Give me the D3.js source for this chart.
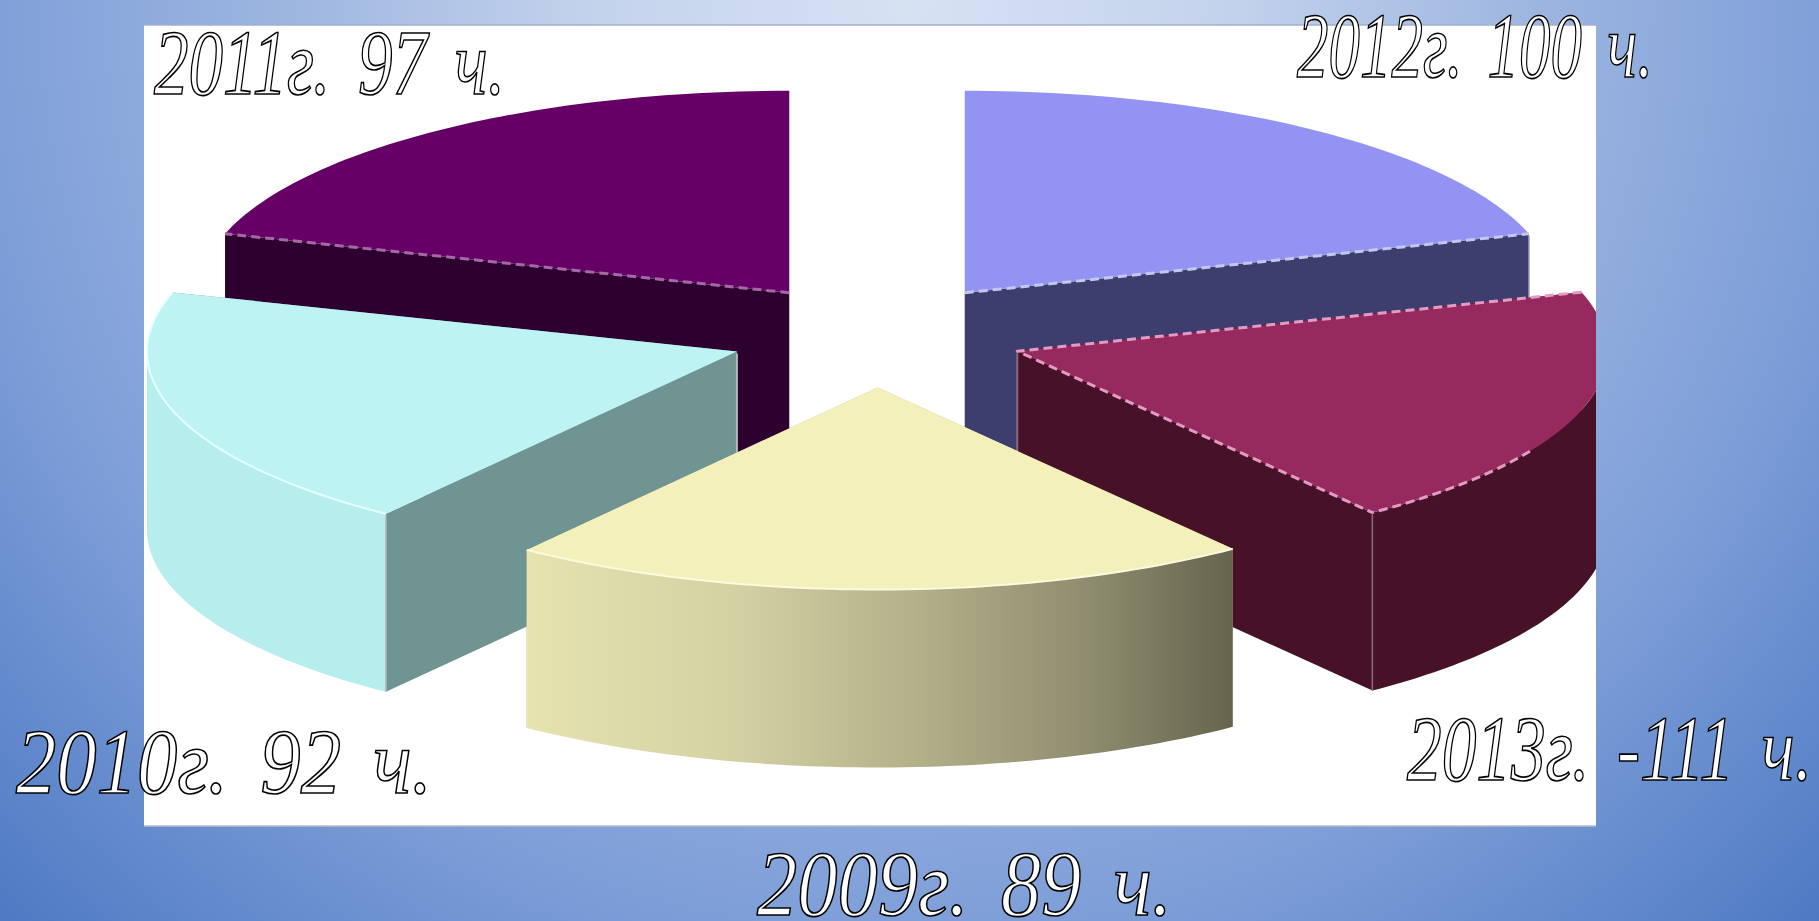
<!DOCTYPE html>
<html><head><meta charset="utf-8">
<style>html,body{margin:0;padding:0;overflow:hidden;background:#6f93d2}svg{display:block}</style>
<script src="https://cdn.jsdelivr.net/npm/d3@7"></script>
</head><body><div id="chart"></div>
<script>
// Painted clockwise from 12 o'clock, as in the picture.
const years = ["2012", "2013", "2009", "2010", "2011"];
const hours = [100, 111, 89, 92, 97];
const hourPrefixes = ["", "-", "", "", ""];
// The slices in the picture are not proportional to the labelled hours: each spans
// about a fifth of the circle. These spans (degrees) are read off the picture itself.
const sliceSpans = [73, 70, 73.5, 70.5, 73];
const paintOrder = ["2011", "2012", "2010", "2013", "2009"];
const topColors = ["#9393f4", "#962a5e", "#f3f0bc", "#bdf3f2", "#660066"];
const sideColors = ["#3e3e6e", "#471228", "#b5b28b", "#6f9491", "#2d0030"];
const wallColors = ["#3e3e6e", "#471228", "url(#yellowWall)", "#b6eeee", "#2d0030"];
const edgeColors = ["#c4c8ee", "#e39ac4", "#fbfadc", "#e6ffff", "#a468a4"];
const seamColors = ["#9a9ab0", "#8a6a7c", "none", "#b4b8b8", "none"];
const labelBoxes = [[1297, 1653, 77], [1407, 1812, 780], [757, 1172, 915], [16, 432, 793], [154, 505, 94]];

const W = 1819, H = 921;
const panel = {x0: 144, x1: 1596, y0: 25, y1: 826};
const cx = 877, cy = 335, rx = 590, ry = 202, depth = 178, explodeX = 0.25, explodeY = 0.26;

const x = d3.scaleLinear().domain([-1, 1]).range([cx - rx, cx + rx]);
const y = d3.scaleLinear().domain([-1, 1]).range([cy - ry, cy + ry]);

const svg = d3.select("#chart").append("svg").attr("width", W).attr("height", H);
const defs = svg.append("defs");

const bg = defs.append("radialGradient").attr("id", "bg").attr("gradientUnits", "userSpaceOnUse")
  .attr("cx", W / 2).attr("cy", 0).attr("r", 1295);
[[0, "#d7e2f3"], [0.25, "#c3d2ec"], [0.48, "#9db6e0"], [0.72, "#7e9ed8"], [1, "#4e7ac3"]]
  .forEach(([o, c]) => bg.append("stop").attr("offset", o).attr("stop-color", c));

const yw = defs.append("linearGradient").attr("id", "yellowWall");
[[0, "#e6e3b0"], [0.3, "#d3d0a3"], [0.55, "#b3b08a"], [0.8, "#8e8c6e"], [1, "#65654d"]]
  .forEach(([o, c]) => yw.append("stop").attr("offset", o).attr("stop-color", c));

defs.append("clipPath").attr("id", "panelClip").append("rect")
  .attr("x", panel.x0).attr("y", panel.y0)
  .attr("width", panel.x1 - panel.x0).attr("height", panel.y1 - panel.y0);

svg.append("rect").attr("width", W).attr("height", H).attr("fill", "url(#bg)");
svg.append("rect").attr("x", panel.x0).attr("y", panel.y0)
  .attr("width", panel.x1 - panel.x0).attr("height", panel.y1 - panel.y0).attr("fill", "#fff");
[[panel.y0, "#a3afcb"], [panel.y1, "#b4bccb"]].forEach(([v, c]) =>
  svg.append("line").attr("x1", panel.x0).attr("x2", panel.x1).attr("y1", v).attr("y2", v)
    .attr("stroke", c).attr("stroke-width", 1.5));

const pie = d3.pie().sort(null).value(d => d);
const slices = pie(sliceSpans).map((s, i) => ({...s, i, year: years[i]}));

const line = d3.line().curve(d3.curveLinear);
const polar = (a, r) => [Math.sin(a) * r, -Math.cos(a) * r];
const sweep = (a0, a1) => d3.range(0, 61).map(k => a0 + (a1 - a0) * k / 60);

const pieG = svg.append("g").attr("clip-path", "url(#panelClip)");

paintOrder.forEach(yr => {
  const s = slices.find(d => d.year === yr);
  const mid = (s.startAngle + s.endAngle) / 2;
  const ox = Math.sin(mid) * explodeX, oy = -Math.cos(mid) * explodeY;
  const P = (a, r, z) => { const [u, v] = polar(a, r); return [x(u + ox), y(v + oy) + z]; };
  const centre = P(0, 0, 0);
  const g = pieG.append("g").attr("class", "slice");

  // radial walls, then the front-facing part of the curved wall, then the top face
  [s.startAngle, s.endAngle].forEach(a => {
    g.append("path").attr("d", line([centre, P(a, 1, 0), P(a, 1, depth), P(0, 0, depth)]) + "Z")
      .attr("fill", sideColors[s.i]);
  });
  const w0 = Math.max(s.startAngle, Math.PI / 2), w1 = Math.min(s.endAngle, Math.PI * 1.5);
  if (w0 < w1) {
    const as = sweep(w0, w1);
    const outer = as.map(a => P(a, 1, 0)).concat(as.slice().reverse().map(a => P(a, 1, depth)));
    g.append("path").attr("d", line(outer) + "Z").attr("fill", wallColors[s.i]);
  }
  const arc = sweep(s.startAngle, s.endAngle).map(a => P(a, 1, 0));
  g.append("path").attr("d", line([centre].concat(arc)) + "Z").attr("fill", topColors[s.i]);

  // light rims only on the edges that have them in the picture
  const rims = s.i === 0 ? [[centre, P(s.endAngle, 1, 0)]]
    : s.i === 4 ? [[centre, P(s.startAngle, 1, 0)]]
    : s.i === 1 ? [[arc[0], centre, arc[arc.length - 1]], arc.slice(40)]
    : [arc];
  rims.forEach(r => {
    g.append("path").attr("d", line(r)).attr("fill", "none")
      .attr("stroke", edgeColors[s.i]).attr("stroke-width", s.i === 2 || s.i === 3 ? 2 : 3)
      .attr("stroke-dasharray", s.i === 2 || s.i === 3 ? null : "9 5")
      .attr("stroke-linejoin", "round");
  });
  if (seamColors[s.i] !== "none") {
    const seamAngle = s.i === 0 || s.i === 1 ? s.endAngle : s.startAngle;
    g.append("path").attr("d", line([P(seamAngle, 1, 2), P(seamAngle, 1, depth)]))
      .attr("stroke", seamColors[s.i]).attr("stroke-width", 1.5).attr("fill", "none");
    if (s.i === 1 || s.i === 3) {
      g.append("path").attr("d", line([P(0, 0, 2), P(0, 0, depth)]))
        .attr("stroke", seamColors[s.i]).attr("stroke-width", 2).attr("fill", "none");
    }
  }
});

const labels = svg.append("g");
years.forEach((yr, i) => {
  const [x0, x1, base] = labelBoxes[i];
  labels.append("text")
    .attr("x", x0).attr("y", base)
    .attr("textLength", x1 - x0).attr("lengthAdjust", "spacingAndGlyphs")
    .attr("style", "font-family:'Liberation Serif','Times New Roman',serif;font-style:italic;font-weight:400;font-size:93px;word-spacing:0.15em;")
    .attr("fill", "#fff").attr("stroke", "#000").attr("stroke-width", 1.7)
    .text(`${yr}г. ${hourPrefixes[i]}${hours[i]} ч.`);
});
</script></body></html>
